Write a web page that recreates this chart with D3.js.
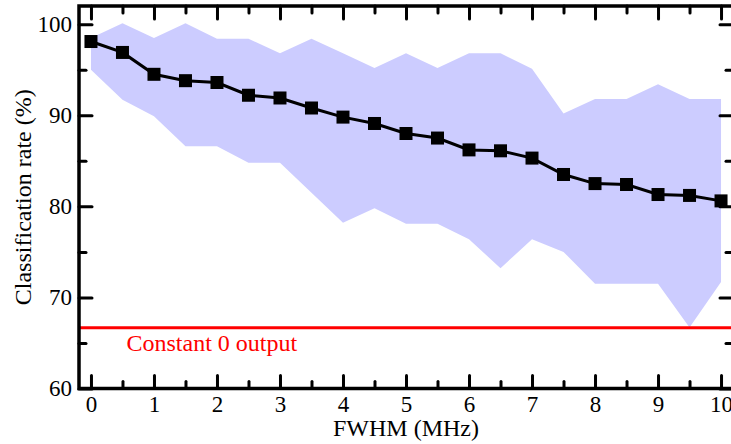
<!DOCTYPE html>
<html>
<head>
<meta charset="utf-8">
<script src="https://cdn.jsdelivr.net/npm/d3@7"></script>
<style>
  html, body { margin: 0; padding: 0; background: #fff; }
  svg { display: block; }
</style>
</head>
<body>
<svg id="chart" width="731" height="444"></svg>
<script>
// ---- data ----
const fwhm = [0, 0.5, 1, 1.5, 2, 2.5, 3, 3.5, 4, 4.5, 5, 5.5, 6, 6.5, 7, 7.5, 8, 8.5, 9, 9.5, 10];
const rateMean = [98.1, 96.9, 94.5, 93.8, 93.6, 92.2, 91.9, 90.8, 89.8, 89.1, 88.0, 87.5, 86.2, 86.1, 85.3, 83.5, 82.5, 82.4, 81.3, 81.2, 80.6];
const rateUpper = [98.5, 100.1, 98.5, 100.1, 98.4, 98.4, 96.8, 98.4, 96.8, 95.2, 96.8, 95.2, 96.8, 96.8, 95.1, 90.2, 91.8, 91.8, 93.4, 91.8, 91.8];
const rateLower = [95.0, 91.7, 89.9, 86.6, 86.6, 84.8, 84.8, 81.5, 78.2, 79.8, 78.1, 78.1, 76.4, 73.2, 76.4, 75.0, 71.5, 71.5, 71.5, 66.7, 71.7];
const constantRate = 66.67;
const constantLabel = "Constant 0 output";
const xTicks = [0, 1, 2, 3, 4, 5, 6, 7, 8, 9, 10];
const xMinorTicks = [0.5, 1.5, 2.5, 3.5, 4.5, 5.5, 6.5, 7.5, 8.5, 9.5];
const yTicks = [60, 70, 80, 90, 100];
const yMinorTicks = [65, 75, 85, 95];
const xTitle = "FWHM (MHz)";
const yTitle = "Classification rate (%)";

// ---- layout ----
const FONT = "'Liberation Serif'";
const svg = d3.select("#chart").style("font-family", FONT);
const L = 79, R = 733, T = 6, B = 388.5;

const x = d3.scaleLinear().domain([-0.19, 10.19]).range([L, R]);
const y = d3.scaleLinear().domain([60, 102]).range([B, T]);

const pts = fwhm.map((f, i) => ({ f, m: rateMean[i], u: rateUpper[i], l: rateLower[i] }));

// band
svg.append("path")
  .datum(pts)
  .attr("fill", "#ccccff")
  .attr("d", d3.area().x(d => x(d.f)).y0(d => y(d.l)).y1(d => y(d.u)));

// constant line
svg.append("line")
  .attr("x1", L).attr("x2", R)
  .attr("y1", y(constantRate)).attr("y2", y(constantRate))
  .attr("stroke", "#ff0000").attr("stroke-width", 3);

svg.append("text")
  .attr("x", 126.5).attr("y", 350.5)
  .attr("fill", "#ff0000")
  .style("font-family", FONT)
  .attr("font-size", 24)
  .text(constantLabel);

// mean line
svg.append("path")
  .datum(pts)
  .attr("fill", "none")
  .attr("stroke", "#000")
  .attr("stroke-width", 3)
  .attr("d", d3.line().x(d => x(d.f)).y(d => y(d.m)));

const ms = 13;
svg.selectAll("rect.marker")
  .data(pts)
  .join("rect")
  .attr("class", "marker")
  .attr("x", d => x(d.f) - ms / 2)
  .attr("y", d => y(d.m) - ms / 2)
  .attr("width", ms).attr("height", ms)
  .attr("fill", "#000");

// ---- axes ----
function styleAxis(g) {
  g.attr("font-family", null).style("font-family", FONT);
  g.select(".domain").remove();
  g.selectAll(".tick line").attr("stroke", "#000").attr("stroke-width", 3).attr("stroke-linecap", "round");
  g.selectAll(".tick text").attr("fill", "#000")
    .style("font-family", FONT).attr("font-size", 23);
}
const MAJ = 13, MIN = 7;

svg.append("g").attr("transform", `translate(0,${B})`)
  .call(d3.axisBottom(x).tickValues(xTicks).tickSize(-MAJ).tickPadding(7).tickFormat(d3.format("d")))
  .call(styleAxis);
svg.append("g").attr("transform", `translate(0,${B})`)
  .call(d3.axisBottom(x).tickValues(xMinorTicks).tickSize(-MIN).tickFormat(""))
  .call(styleAxis);
svg.append("g").attr("transform", `translate(0,${T})`)
  .call(d3.axisTop(x).tickValues(xTicks).tickSize(-MAJ).tickFormat(""))
  .call(styleAxis);
svg.append("g").attr("transform", `translate(0,${T})`)
  .call(d3.axisTop(x).tickValues(xMinorTicks).tickSize(-MIN).tickFormat(""))
  .call(styleAxis);
svg.append("g").attr("transform", `translate(${L},0)`)
  .call(d3.axisLeft(y).tickValues(yTicks).tickSize(-MAJ).tickPadding(7).tickFormat(d3.format("d")))
  .call(styleAxis);
svg.append("g").attr("transform", `translate(${L},0)`)
  .call(d3.axisLeft(y).tickValues(yMinorTicks).tickSize(-MIN).tickFormat(""))
  .call(styleAxis);
svg.append("g").attr("transform", `translate(${R},0)`)
  .call(d3.axisRight(y).tickValues(yTicks).tickSize(-MAJ).tickFormat(""))
  .call(styleAxis);
svg.append("g").attr("transform", `translate(${R},0)`)
  .call(d3.axisRight(y).tickValues(yMinorTicks).tickSize(-MIN).tickFormat(""))
  .call(styleAxis);

// frame
svg.append("rect")
  .attr("x", L).attr("y", T).attr("width", R - L).attr("height", B - T)
  .attr("fill", "none").attr("stroke", "#000").attr("stroke-width", 3.5);

// titles
svg.append("text")
  .attr("x", (L + R) / 2).attr("y", 435.5)
  .attr("text-anchor", "middle")
  .style("font-family", FONT)
  .attr("font-size", 24)
  .text(xTitle);

svg.append("text")
  .attr("transform", `translate(31,${(T + B) / 2}) rotate(-90)`)
  .attr("text-anchor", "middle")
  .style("font-family", FONT)
  .attr("font-size", 24)
  .text(yTitle);
</script>
</body>
</html>
